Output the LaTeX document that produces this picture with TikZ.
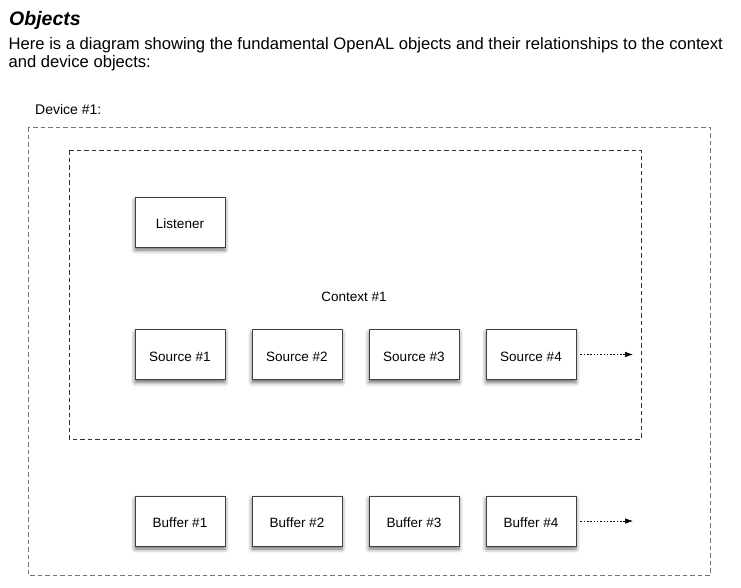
\documentclass[tikz,border=0pt]{standalone}
\usepackage{fontspec}
\setmainfont{Liberation Sans}
\usetikzlibrary{shadows.blur,arrows.meta}
\begin{document}
\begin{tikzpicture}[x=1pt,y=-1pt,
  objbox/.style={draw=black!75,line width=0.8pt,fill=white,minimum width=90pt,minimum height=50pt,inner sep=0pt,
    font=\fontsize{13.5}{15}\selectfont,text height=13pt,text depth=0pt,
    blur shadow={shadow xshift=0pt,shadow yshift=-3pt,shadow blur radius=4pt,shadow opacity=60}},
  region/.style={line width=0.8pt,dash pattern=on 4.5pt off 3pt},
  lbl/.style={font=\fontsize{13.5}{15}\selectfont,inner sep=0pt},
  more/.style={draw=black,line width=0.6pt,dash pattern=on 1.5pt off 1.8pt,-{Latex[length=8pt,width=5.5pt]}}]
\useasboundingbox (0,0) rectangle (741,587);
% header text
\node[anchor=base west,inner sep=0pt,font=\fontsize{19.5}{22}\selectfont\bfseries\itshape] (title) at (9,25) {Objects};
\node[anchor=base west,inner sep=0pt,font=\fontsize{16.6}{17}\selectfont] (line1) at (8.5,49) {Here is a diagram showing the fundamental OpenAL objects and their relationships to the context};
\node[anchor=base west,inner sep=0pt,font=\fontsize{16.6}{17}\selectfont] (line2) at (8.5,67) {and device objects:};
\node[anchor=base west,lbl,font=\fontsize{14}{15}\selectfont] (devlbl) at (35,114) {Device \#1:};
% regions
\draw[region,draw=black!55] (28,127) rectangle (710,575);
\draw[region,draw=black!80] (69,150) rectangle (641,439);
\node[lbl] (ctx) at (354,297) {Context \#1};
% objects
\node[objbox] (listener) at (180,222) {Listener};
\node[objbox] (s1) at (180,354.5) {Source \#1};
\node[objbox] (s2) at (297,354.5) {Source \#2};
\node[objbox] (s3) at (414,354.5) {Source \#3};
\node[objbox] (s4) at (531,354.5) {Source \#4};
\node[objbox] (b1) at (180,521) {Buffer \#1};
\node[objbox] (b2) at (297,521) {Buffer \#2};
\node[objbox] (b3) at (414,521) {Buffer \#3};
\node[objbox] (b4) at (531,521) {Buffer \#4};
\coordinate (s4end) at (633,354.5);
\coordinate (b4end) at (633,521);
\draw[more] ([xshift=4pt]s4.east) -- (s4end);
\draw[more] ([xshift=4pt]b4.east) -- (b4end);
\end{tikzpicture}
\end{document}
